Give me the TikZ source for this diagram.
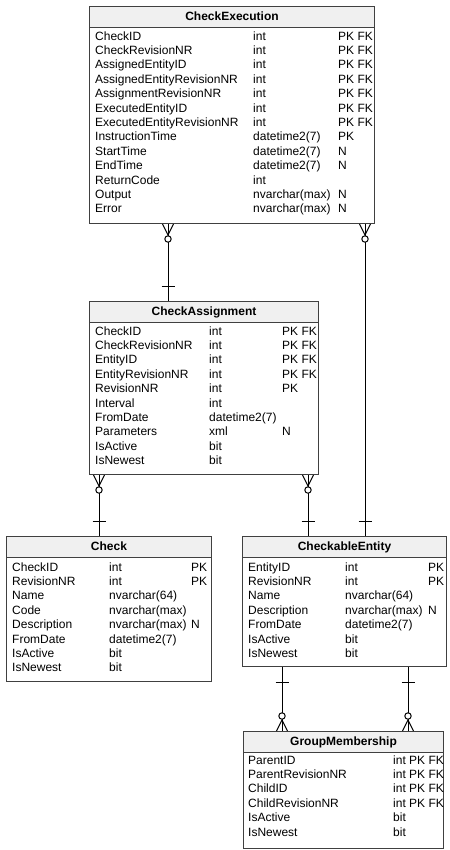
\documentclass[tikz,border=0pt]{standalone}
\usepackage{fontspec}
\setmainfont{Liberation Sans}
\newcommand\erfont{\fontsize{12bp}{14bp}\selectfont}
\tikzset{
  tablebox/.style={draw=black!75, line width=1bp, inner sep=0pt, anchor=north west},
  tablehead/.style={tablebox, fill=gray!12, minimum height=20.5bp, font=\erfont\bfseries, text height=9bp, text depth=2.5bp},
  cell/.style={anchor=base west, inner sep=0pt, font=\erfont},
  conn/.style={draw=black, line width=1bp},
  manyzero/.pic={
    \draw[conn] (-5.5,0) -- (0,11) -- (5.5,0);
    \draw[conn, fill=white] (0,15) circle (3.2bp);
  },
  onebar/.pic={
    \draw[conn] (-6.5,15) -- (6.5,15);
  }
}
\begin{document}
\begin{tikzpicture}[x=1bp,y=-1bp]
  \useasboundingbox (0,0) rectangle (450,850);
  % tables
  \node[tablebox, minimum width=285bp, minimum height=217bp] (exec) at (89,6) {};
  \node[tablehead, minimum width=285bp] (exec-head) at (exec.north west) {CheckExecution};
  \foreach \fname/\ftype/\fkey [count=\i from 0] in {CheckID/int/PK FK, CheckRevisionNR/int/PK FK,
      AssignedEntityID/int/PK FK, AssignedEntityRevisionNR/int/PK FK, AssignmentRevisionNR/int/PK FK,
      ExecutedEntityID/int/PK FK, ExecutedEntityRevisionNR/int/PK FK, InstructionTime/datetime2(7)/PK,
      StartTime/datetime2(7)/N, EndTime/datetime2(7)/N, ReturnCode/int/{}, Output/nvarchar(max)/N,
      Error/nvarchar(max)/N} {
    \node[cell] (exec-n\i) at ([xshift=6bp, yshift=-34bp-14.4bp*\i]exec.north west) {\fname};
    \node[cell] (exec-t\i) at ([xshift=164bp, yshift=-34bp-14.4bp*\i]exec.north west) {\ftype};
    \node[cell] (exec-k\i) at ([xshift=249bp, yshift=-34bp-14.4bp*\i]exec.north west) {\fkey};
  }

  \node[tablebox, minimum width=229bp, minimum height=173bp] (assign) at (89,301) {};
  \node[tablehead, minimum width=229bp] (assign-head) at (assign.north west) {CheckAssignment};
  \foreach \fname/\ftype/\fkey [count=\i from 0] in {CheckID/int/PK FK, CheckRevisionNR/int/PK FK,
      EntityID/int/PK FK, EntityRevisionNR/int/PK FK, RevisionNR/int/PK, Interval/int/{},
      FromDate/datetime2(7)/{}, Parameters/xml/N, IsActive/bit/{}, IsNewest/bit/{}} {
    \node[cell] (assign-n\i) at ([xshift=6bp, yshift=-34bp-14.4bp*\i]assign.north west) {\fname};
    \node[cell] (assign-t\i) at ([xshift=120bp, yshift=-34bp-14.4bp*\i]assign.north west) {\ftype};
    \node[cell] (assign-k\i) at ([xshift=193bp, yshift=-34bp-14.4bp*\i]assign.north west) {\fkey};
  }

  \node[tablebox, minimum width=205bp, minimum height=145bp] (check) at (6,536) {};
  \node[tablehead, minimum width=205bp] (check-head) at (check.north west) {Check};
  \foreach \fname/\ftype/\fkey [count=\i from 0] in {CheckID/int/PK, RevisionNR/int/PK,
      Name/nvarchar(64)/{}, Code/nvarchar(max)/{}, Description/nvarchar(max)/N,
      FromDate/datetime2(7)/{}, IsActive/bit/{}, IsNewest/bit/{}} {
    \node[cell] (check-n\i) at ([xshift=6bp, yshift=-35bp-14.4bp*\i]check.north west) {\fname};
    \node[cell] (check-t\i) at ([xshift=103bp, yshift=-35bp-14.4bp*\i]check.north west) {\ftype};
    \node[cell] (check-k\i) at ([xshift=185bp, yshift=-35bp-14.4bp*\i]check.north west) {\fkey};
  }

  \node[tablebox, minimum width=204bp, minimum height=130bp] (entity) at (242,536) {};
  \node[tablehead, minimum width=204bp] (entity-head) at (entity.north west) {CheckableEntity};
  \foreach \fname/\ftype/\fkey [count=\i from 0] in {EntityID/int/PK, RevisionNR/int/PK,
      Name/nvarchar(64)/{}, Description/nvarchar(max)/N, FromDate/datetime2(7)/{},
      IsActive/bit/{}, IsNewest/bit/{}} {
    \node[cell] (entity-n\i) at ([xshift=6bp, yshift=-35bp-14.4bp*\i]entity.north west) {\fname};
    \node[cell] (entity-t\i) at ([xshift=103bp, yshift=-35bp-14.4bp*\i]entity.north west) {\ftype};
    \node[cell] (entity-k\i) at ([xshift=186bp, yshift=-35bp-14.4bp*\i]entity.north west) {\fkey};
  }

  \node[tablebox, minimum width=200bp, minimum height=117bp] (group) at (243,731) {};
  \node[tablehead, minimum width=200bp] (group-head) at (group.north west) {GroupMembership};
  \foreach \fname/\ftype [count=\i from 0] in {ParentID/int PK FK, ParentRevisionNR/int PK FK,
      ChildID/int PK FK, ChildRevisionNR/int PK FK, IsActive/bit, IsNewest/bit} {
    \node[cell] (group-n\i) at ([xshift=5bp, yshift=-33bp-14.4bp*\i]group.north west) {\fname};
    \node[cell] (group-t\i) at ([xshift=150bp, yshift=-33bp-14.4bp*\i]group.north west) {\ftype};
  }

  % relations
  \coordinate (k1) at (168,0);
  \coordinate (k2) at (365,0);
  \coordinate (k3) at (99,0);
  \coordinate (k4) at (308,0);
  \coordinate (k5) at (282,0);
  \coordinate (k6) at (408,0);
  \draw[conn] (exec.south -| k1) -- (assign.north -| k1);
  \draw[conn] (exec.south -| k2) -- (entity.north -| k2);
  \draw[conn] (assign.south -| k3) -- (check.north -| k3);
  \draw[conn] (assign.south -| k4) -- (entity.north -| k4);
  \draw[conn] (entity.south -| k5) -- (group.north -| k5);
  \draw[conn] (entity.south -| k6) -- (group.north -| k6);
  \pic at (exec.south -| k1) {manyzero};
  \pic[yscale=-1] at (assign.north -| k1) {onebar};
  \pic at (exec.south -| k2) {manyzero};
  \pic[yscale=-1] at (entity.north -| k2) {onebar};
  \pic at (assign.south -| k3) {manyzero};
  \pic[yscale=-1] at (check.north -| k3) {onebar};
  \pic at (assign.south -| k4) {manyzero};
  \pic[yscale=-1] at (entity.north -| k4) {onebar};
  \pic at (entity.south -| k5) {onebar};
  \pic[yscale=-1] at (group.north -| k5) {manyzero};
  \pic at (entity.south -| k6) {onebar};
  \pic[yscale=-1] at (group.north -| k6) {manyzero};
\end{tikzpicture}
\end{document}
